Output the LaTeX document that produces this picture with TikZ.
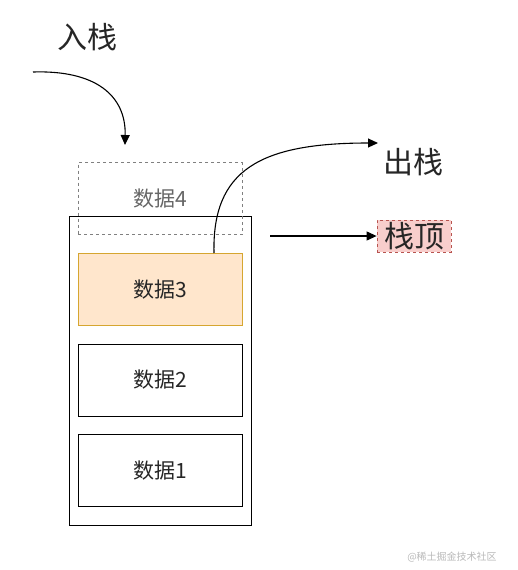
\documentclass[tikz,border=0pt]{standalone}
\usepackage{fontspec}
\setmainfont{Noto Sans CJK SC}
\usetikzlibrary{arrows.meta}
\definecolor{txt}{HTML}{262626}
\definecolor{orfill}{HTML}{FFE6CC}
\definecolor{ordraw}{HTML}{D6A630}
\definecolor{pkfill}{HTML}{F8CECC}
\definecolor{pkdraw}{HTML}{B85450}
\tikzset{
  databox/.style={draw=black, line width=0.9pt, minimum width=164pt, minimum height=72pt, inner sep=0pt, font=\fontsize{21}{23}\selectfont, text=txt},
  bigtext/.style={font=\fontsize{30}{32}\selectfont, text=txt, inner sep=1pt},
  arr/.style={-{Triangle[length=10pt,width=9pt]}, line width=1.1pt, black}
}
\begin{document}
\begin{tikzpicture}[x=1pt,y=-1pt]
\useasboundingbox (0,0) rectangle (517,570);
\fill[white] (0,0) rectangle (517,570);
% outer stack
\node[draw=black, line width=1pt, minimum width=182pt, minimum height=309pt, inner sep=0pt] (stack) at (160,370.5) {};
% data boxes
\node[databox, draw=gray, dashed, text=gray!80!black] (d4) at (160,198.5) {数据4};
\node[databox, fill=orfill, draw=ordraw] (d3) at (160,289.5) {数据3};
\node[databox] (d2) at (160,380) {数据2};
\node[databox] (d1) at (160,470.5) {数据1};
% labels
\node[bigtext] (in) at (87,37) {入栈};
\node[bigtext] (out) at (413,162) {出栈};
\node[bigtext, fill=pkfill, draw=pkdraw, dashed, line width=0.8pt, minimum height=32pt, minimum width=74pt, inner sep=0pt] (top) at (414,236) {栈顶};
% connectors
\coordinate (inStart) at (33,72);
\coordinate (inEnd) at (125,145);
\draw[arr] (inStart) .. controls (95,70) and (126,95) .. (inEnd);
\coordinate (outStart) at (214,253);
\coordinate (outEnd) at (378,143);
\draw[arr] (outStart) .. controls (212,170) and (260,143) .. (outEnd);
\coordinate (topStart) at (270,236);
\draw[arr] (topStart) -- (top.west);
% watermark
\node[font=\fontsize{10}{11}\selectfont, text=gray!55] (wm) at (452,557) {@稀土掘金技术社区};
\end{tikzpicture}
\end{document}
